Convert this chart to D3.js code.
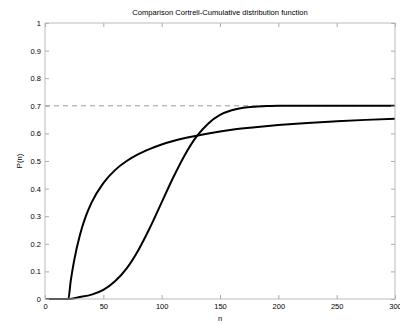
<!DOCTYPE html>
<meta charset="utf-8">
<style>
body { margin: 0; background: #fff; }
svg { font-family: "Liberation Sans", Arial, sans-serif; }
.axis text { font-size: 7.5px; fill: #000; }
.axis line { stroke: #aaa; }
.axis path { stroke: none; }
.title { font-size: 7.6px; fill: #000; }
.curve { fill: none; stroke: #000; stroke-width: 2; }
</style>
<body>
<script src="https://d3js.org/d3.v7.min.js"></script>
<script>

// values
var fastN = [0, 10, 20, 22, 25, 30, 35, 40, 50, 60, 70, 80, 90, 100, 120, 140, 160, 180, 200, 225, 250, 275, 300];
var fastP = [0, 0, 0, 0.064, 0.14, 0.233, 0.30, 0.35, 0.42, 0.467, 0.50, 0.525, 0.544, 0.56, 0.583, 0.60, 0.613, 0.622, 0.63, 0.638, 0.644, 0.649, 0.653];

var slowN = [0, 10, 20, 30, 40, 50, 60, 70, 80, 90, 100, 110, 120, 130, 140, 150, 160, 170, 180, 190, 200, 250, 300];
var slowP = [0, 0, 0, 0.007, 0.016, 0.033, 0.064, 0.111, 0.177, 0.259, 0.35, 0.441, 0.523, 0.589, 0.636, 0.667, 0.684, 0.693, 0.697, 0.699, 0.7, 0.7, 0.7];

var asymptote = 0.7;
var xTicks = [0, 50, 100, 150, 200, 250, 300];
var yTicks = [0, 0.1, 0.2, 0.3, 0.4, 0.5, 0.6, 0.7, 0.8, 0.9, 1];

var margin = {top: 23, right: 5, bottom: 24, left: 45},
    width = 400 - margin.left - margin.right,
    height = 323 - margin.top - margin.bottom;

var svg = d3.select("body").append("svg")
    .attr("width", 400)
    .attr("height", 323)
  .append("g")
    .attr("transform", "translate(" + margin.left + "," + margin.top + ")");

var x = d3.scaleLinear().domain([0, 300]).range([0, width]);
var y = d3.scaleLinear().domain([0, 1]).range([height, 0]);

// dashed level
svg.append("line")
    .attr("x1", x(0)).attr("x2", x(300))
    .attr("y1", y(asymptote)).attr("y2", y(asymptote))
    .style("stroke", "#999")
    .style("stroke-dasharray", "5,4");

var line = d3.line()
    .x(function(d) { return x(d[0]); })
    .y(function(d) { return y(d[1]); })
    .curve(d3.curveMonotoneX);

svg.append("path")
    .attr("class", "curve")
    .attr("d", line(d3.zip(fastN, fastP)));

svg.append("path")
    .attr("class", "curve")
    .attr("d", line(d3.zip(slowN, slowP)));

// box + ticks
svg.append("g").attr("class", "axis")
    .attr("transform", "translate(0," + height + ")")
    .call(d3.axisBottom(x).tickValues(xTicks).tickSizeInner(-4).tickSizeOuter(0).tickPadding(5));
svg.append("g").attr("class", "axis")
    .call(d3.axisTop(x).tickValues(xTicks).tickSizeInner(-4).tickSizeOuter(0).tickFormat(""));
svg.append("g").attr("class", "axis")
    .call(d3.axisLeft(y).tickValues(yTicks).tickSizeInner(-4).tickSizeOuter(0).tickPadding(4).tickFormat(d3.format("~g")));
svg.append("g").attr("class", "axis")
    .attr("transform", "translate(" + width + ",0)")
    .call(d3.axisRight(y).tickValues(yTicks).tickSizeInner(-4).tickSizeOuter(0).tickFormat(""));

svg.append("rect")
    .attr("width", width).attr("height", height)
    .style("fill", "none")
    .style("stroke", "#bbb");

svg.append("text")
    .attr("class", "title")
    .attr("x", width / 2)
    .attr("y", -8)
    .attr("text-anchor", "middle")
    .text("Comparison Cortrell-Cumulative distribution function");

svg.append("text")
    .attr("class", "title")
    .attr("x", width / 2)
    .attr("y", height + 22)
    .attr("text-anchor", "middle")
    .text("n");

svg.append("text")
    .attr("class", "title")
    .attr("transform", "translate(-23," + (height / 2) + ") rotate(-90)")
    .attr("text-anchor", "middle")
    .text("P(n)");

</script>
